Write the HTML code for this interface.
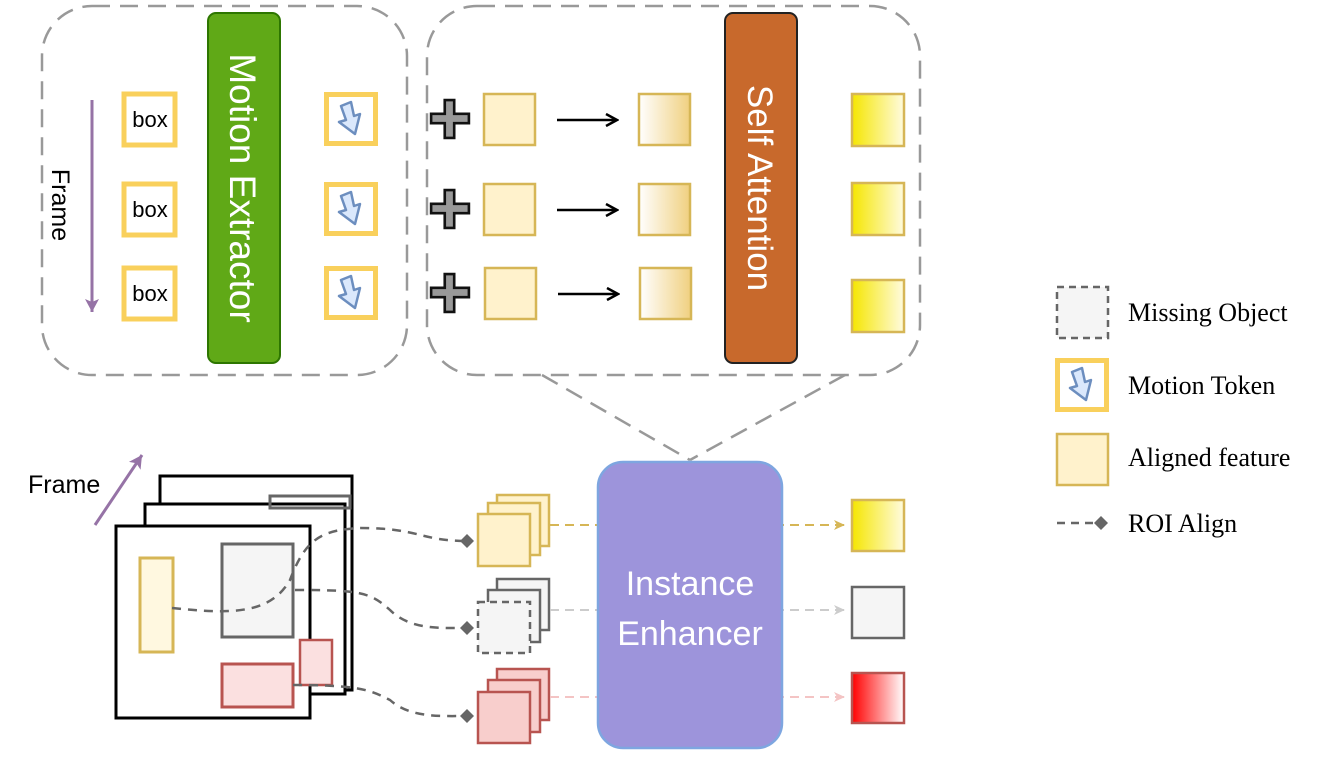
<!DOCTYPE html><html><head><style>body{margin:0;background:#fff}svg{display:block}</style></head><body>
<svg width="1329" height="762" viewBox="0 0 1329 762" xmlns="http://www.w3.org/2000/svg" font-family="Liberation Sans, sans-serif">
<defs>
<linearGradient id="g1" x1="0" x2="1"><stop offset="0" stop-color="#fff"/><stop offset="1" stop-color="#f0d080"/></linearGradient>
<linearGradient id="gy" x1="0" x2="1"><stop offset="0" stop-color="#f5e600"/><stop offset="1" stop-color="#fffbe0"/></linearGradient>
<linearGradient id="gr" x1="0" x2="1"><stop offset="0" stop-color="#f00"/><stop offset="1" stop-color="#fff"/></linearGradient>
<marker id="ah" markerWidth="14" markerHeight="14" refX="12" refY="7" orient="auto" markerUnits="userSpaceOnUse"><path d="M1,1 L12,7 L1,13" fill="none" stroke="#000" stroke-width="2.5"/></marker>
<marker id="ay" markerWidth="12" markerHeight="12" refX="11" refY="6" orient="auto" markerUnits="userSpaceOnUse"><path d="M0,1 L11,6 L0,11 L3,6z" fill="#d6b656"/></marker>
<marker id="ag" markerWidth="12" markerHeight="12" refX="11" refY="6" orient="auto" markerUnits="userSpaceOnUse"><path d="M0,1 L11,6 L0,11 L3,6z" fill="#ccc"/></marker>
<marker id="ar" markerWidth="12" markerHeight="12" refX="11" refY="6" orient="auto" markerUnits="userSpaceOnUse"><path d="M0,1 L11,6 L0,11 L3,6z" fill="#f4c4c4"/></marker>
<marker id="ap" markerWidth="18" markerHeight="18" refX="15" refY="9" orient="auto" markerUnits="userSpaceOnUse"><path d="M2,2 L15,9 L2,16 L5,9z" fill="#9673a6"/></marker>
<symbol id="tok" viewBox="0 0 54 54"><rect x="2.5" y="2.5" width="49" height="49" fill="#fff" stroke="#f9d05c" stroke-width="5"/><path d="M17,14 L27,10 L30,24 L36,22 L31,42 L15,30 L22,28z" fill="#dae8fc" stroke="#6c8ebf" stroke-width="2.5" stroke-linejoin="round"/></symbol>
<symbol id="plus" viewBox="0 0 40 40"><path d="M15,2 H24 V15 H38 V24 H24 V38 H15 V24 H2 V15 H15z" fill="#999" stroke="#111" stroke-width="2.5"/></symbol>
</defs>
<g fill="none" stroke="#999" stroke-width="2.5" stroke-dasharray="18 10">
<rect x="42" y="6" width="365" height="369" rx="50"/>
<rect x="427" y="6" width="493" height="369" rx="50"/>
<path d="M542,375 L690,460 M845,375 L690,460"/>
</g>
<path d="M92,100 V312" stroke="#9673a6" stroke-width="3" marker-end="url(#ap)"/>
<text transform="translate(52,205) rotate(90)" text-anchor="middle" font-size="25">Frame</text>
<g stroke="#f9d05c" stroke-width="5" fill="#fff">
<rect x="124" y="94" width="51" height="51"/><rect x="124" y="184" width="51" height="51"/><rect x="124" y="268" width="51" height="51"/>
</g>
<g font-size="22" text-anchor="middle"><text x="150" y="127">box</text><text x="150" y="217">box</text><text x="150" y="301">box</text></g>
<rect x="208" y="13" width="72" height="350" rx="8" fill="#60a917" stroke="#2d7600" stroke-width="2"/>
<text transform="translate(230,188) rotate(90)" text-anchor="middle" font-size="37" fill="#fff">Motion Extractor</text>
<use href="#tok" x="324" y="92" width="54" height="54"/><use href="#tok" x="324" y="182" width="54" height="54"/><use href="#tok" x="324" y="266" width="54" height="54"/>
<use href="#plus" x="429" y="98" width="42" height="42"/><use href="#plus" x="429" y="188" width="42" height="42"/><use href="#plus" x="429" y="272" width="42" height="42"/>
<g fill="#fff2cc" stroke="#d6b656" stroke-width="2.5">
<rect x="484" y="94" width="51" height="51"/><rect x="484" y="184" width="51" height="51"/><rect x="485" y="268" width="51" height="51"/>
<rect x="639" y="94" width="51" height="51" fill="url(#g1)"/><rect x="639" y="184" width="51" height="51" fill="url(#g1)"/><rect x="640" y="268" width="51" height="51" fill="url(#g1)"/>
<rect x="852" y="94" width="52" height="52" fill="url(#gy)"/><rect x="852" y="183" width="52" height="52" fill="url(#gy)"/><rect x="852" y="280" width="52" height="52" fill="url(#gy)"/>
</g>
<g stroke="#000" stroke-width="2.5"><path d="M557,120 H617" marker-end="url(#ah)"/><path d="M557,210 H617" marker-end="url(#ah)"/><path d="M558,294 H618" marker-end="url(#ah)"/></g>
<rect x="725" y="13" width="72" height="350" rx="8" fill="#c8692c" stroke="#222" stroke-width="2"/>
<text transform="translate(748,188) rotate(90)" text-anchor="middle" font-size="35" fill="#fff">Self Attention</text>
<!-- bottom -->
<text x="28" y="493" font-size="25">Frame</text>
<path d="M95,525 L142,455" stroke="#9673a6" stroke-width="3" marker-end="url(#ap)"/>
<g stroke="#000" stroke-width="3" fill="#fff">
<rect x="160" y="476" width="192" height="214"/>
<rect x="145" y="504" width="200" height="190"/>
<rect x="116" y="526" width="194" height="192"/>
</g>
<rect x="270" y="496" width="80" height="12" fill="none" stroke="#666" stroke-width="3"/>
<rect x="140" y="558" width="33" height="94" fill="#fff8e0" stroke="#d6b656" stroke-width="3"/>
<rect x="222" y="544" width="71" height="93" fill="#f5f5f5" stroke="#666" stroke-width="3"/>
<rect x="222" y="664" width="71" height="43" fill="#fbe0e0" stroke="#b85450" stroke-width="3"/>
<rect x="300" y="640" width="32" height="45" fill="#fbe0e0" stroke="#b85450" stroke-width="2.5"/>
<g fill="none" stroke="#666" stroke-width="2.5" stroke-dasharray="9 7">
<path d="M172,608 C230,614 270,615 290,580 C305,540 320,530 360,528 C420,528 420,541 467,541"/>
<path d="M295,590 C360,590 370,592 390,610 C410,630 440,628 467,628"/>
<path d="M293,685 C360,685 370,690 390,700 C410,718 440,716 467,716"/>
</g>
<g fill="#666"><path d="M467,534 L474,541 L467,548 L460,541z"/><path d="M467,621 L474,628 L467,635 L460,628z"/><path d="M467,709 L474,716 L467,723 L460,716z"/></g>
<g stroke-width="2.5">
<g fill="#fff2cc" stroke="#d6b656"><rect x="497" y="495" width="52" height="51"/><rect x="488" y="503" width="52" height="52"/><rect x="478" y="514" width="52" height="52"/></g>
<g fill="#f5f5f5" stroke="#666"><rect x="497" y="579" width="52" height="51"/><rect x="488" y="590" width="52" height="52"/><rect x="478" y="602" width="52" height="51" stroke-dasharray="7 5"/></g>
<g fill="#f8cecc" stroke="#b85450"><rect x="497" y="669" width="52" height="51"/><rect x="488" y="680" width="52" height="52"/><rect x="478" y="692" width="52" height="51"/></g>
</g>
<g stroke-width="2" stroke-dasharray="9 6" fill="none">
<path d="M550,525 H845" stroke="#d6b656" marker-end="url(#ay)"/>
<path d="M550,610 H845" stroke="#ccc" marker-end="url(#ag)"/>
<path d="M550,697 H845" stroke="#f4c4c4" marker-end="url(#ar)"/>
</g>
<rect x="598" y="462" width="184" height="286" rx="25" fill="#9d94db" stroke="#7ea6e0" stroke-width="2.5"/>
<text x="690" y="595" text-anchor="middle" font-size="34" fill="#fff">Instance</text>
<text x="690" y="645" text-anchor="middle" font-size="34" fill="#fff">Enhancer</text>
<rect x="852" y="500" width="52" height="51" fill="url(#gy)" stroke="#d6b656" stroke-width="2.5"/>
<rect x="852" y="587" width="52" height="51" fill="#f5f5f5" stroke="#666" stroke-width="2.5"/>
<rect x="852" y="673" width="52" height="50" fill="url(#gr)" stroke="#b85450" stroke-width="2.5"/>
<!-- legend -->
<rect x="1057" y="287" width="51" height="51" fill="#f5f5f5" stroke="#666" stroke-width="2.5" stroke-dasharray="7 5"/>
<use href="#tok" x="1055" y="358" width="54" height="54"/>
<rect x="1057" y="434" width="51" height="51" fill="#fff2cc" stroke="#d6b656" stroke-width="2.5"/>
<path d="M1057,523 H1098" stroke="#666" stroke-width="2.5" stroke-dasharray="8 6"/>
<path d="M1101,516 L1108,523 L1101,530 L1094,523z" fill="#666"/>
<g font-family="Liberation Serif, serif" font-size="26">
<text x="1128" y="321">Missing Object</text>
<text x="1128" y="394">Motion Token</text>
<text x="1128" y="466">Aligned feature</text>
<text x="1128" y="532">ROI Align</text>
</g>
</svg>
</body></html>
